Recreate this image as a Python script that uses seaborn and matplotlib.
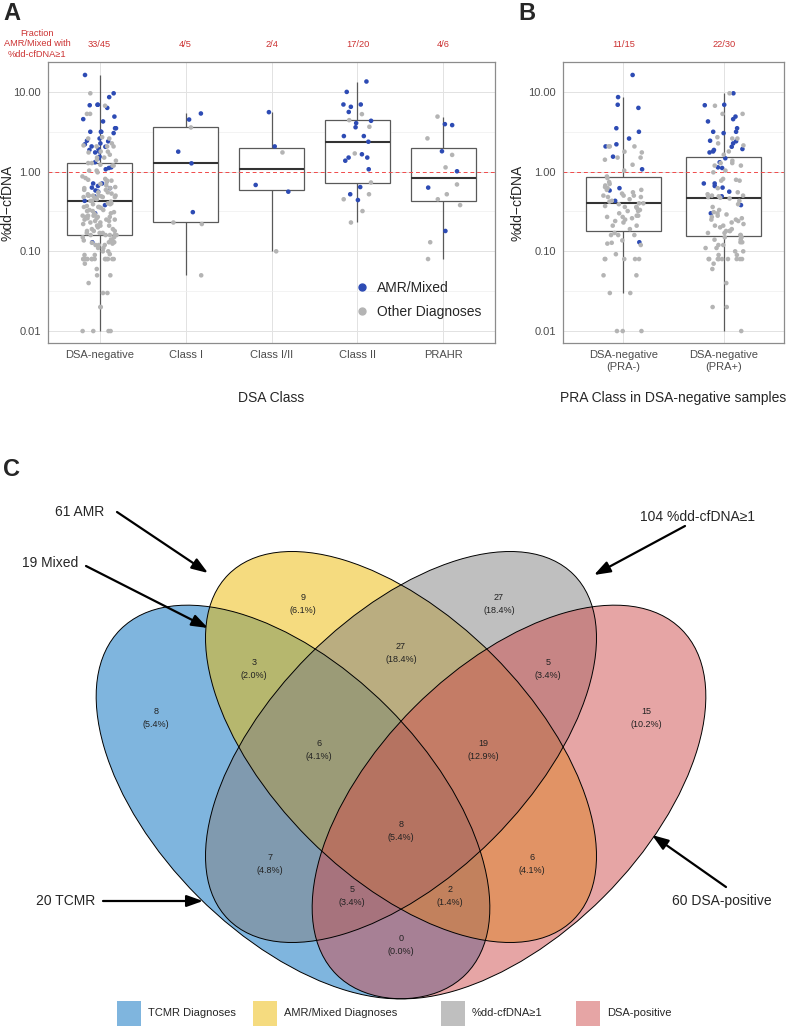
import numpy as np
import pandas as pd
import matplotlib.pyplot as plt
import seaborn as sns
from matplotlib.patches import Ellipse, Rectangle
from matplotlib.lines import Line2D
from matplotlib.ticker import FixedLocator, FixedFormatter, NullFormatter

# ---- Panel A/B data (%dd-cfDNA per sample) ----
pra_neg_amr = [16.3, 8.6, 6.9, 6.3, 3.5, 3.16, 2.6, 2.2, 2.07, 1.54, 1.07, 0.62, 0.58, 0.43, 0.13]
pra_neg_other = [2.07, 2.07, 2.07, 1.74, 1.78, 1.41, 1.5, 1.5, 1.22, 1.03,
                 0.87, 0.83, 0.74, 0.7, 0.67, 0.64, 0.59, 0.59, 0.5, 0.48,
                 0.43, 0.5, 0.48, 0.53, 0.5, 0.4, 0.37, 0.39, 0.36, 0.4,
                 0.36, 0.32, 0.30, 0.28, 0.32, 0.28, 0.26, 0.27, 0.24, 0.27,
                 0.23, 0.21, 0.21, 0.19, 0.16, 0.16, 0.16, 0.137, 0.125, 0.128,
                 0.12, 0.092, 0.08, 0.08, 0.08, 0.08, 0.08, 0.05, 0.05, 0.03,
                 0.03, 0.01, 0.01, 0.01, 0.45, 0.55, 0.62, 0.35, 0.33, 0.42, 0.25, 0.17]
pra_pos_amr = [9.6, 6.8, 6.9, 4.9, 4.55, 4.26, 3.5, 3.16, 3.16, 3.04, 2.44, 2.26, 2.4, 2.05, 1.92,
               1.87, 1.79, 1.74, 1.47, 1.31, 1.13, 1.11, 0.71, 0.71, 0.63, 0.66, 0.49, 0.38, 0.30, 0.56]
pra_pos_other = [9.6, 6.7, 5.3, 5.3, 2.7, 2.6, 2.6, 2.26, 2.13, 1.79,
                 1.63, 1.37, 1.28, 1.28, 1.19, 1.19, 1.03, 0.98, 0.77, 0.77,
                 0.79, 0.81, 0.62, 0.49, 0.5, 0.48, 0.43, 0.39, 0.36, 0.28,
                 0.29, 0.25, 0.26, 0.22, 0.21, 0.25, 0.21, 0.18, 0.18, 0.17,
                 0.18, 0.16, 0.16, 0.15, 0.14, 0.13, 0.11, 0.13, 0.14, 0.11,
                 0.08, 0.08, 0.08, 0.08, 0.08, 0.08, 0.08, 0.08, 0.07, 0.09,
                 0.06, 0.04, 0.02, 0.02, 0.01,
                 0.55, 0.52, 0.5, 0.47, 0.46, 0.33, 0.31, 0.3, 0.27, 0.24, 0.23,
                 0.2, 0.19, 0.17, 0.15, 0.12, 0.12, 0.1, 0.1, 0.09, 0.08]
class1_amr = [5.36, 4.5, 1.78, 1.27, 0.31]
class1_other = [3.58, 0.23, 0.22, 0.05]
class12_amr = [5.57, 2.07, 0.68, 0.56]
class12_other = [1.74, 0.10]
class2_amr = [13.5, 10.0, 6.5, 5.6, 6.95, 6.95, 4.34, 4.06, 3.6, 2.79, 2.79, 2.37, 1.65, 1.5, 1.5, 1.37,
              1.07, 0.64, 0.52, 0.44]
class2_other = [5.26, 4.42, 3.65, 1.69, 0.73, 0.52, 0.45, 0.32, 0.23]
prahr_amr = [3.83, 3.94, 1.8, 1.01, 0.63, 0.18]
prahr_other = [4.9, 2.61, 1.62, 1.13, 0.69, 0.52, 0.45, 0.38, 0.13, 0.08]

groups_a = ['DSA-negative', 'Class I', 'Class I/II', 'Class II', 'PRAHR']
fracs_a = ['33/45', '4/5', '2/4', '17/20', '4/6']
groups_b = ['DSA-negative\n(PRA-)', 'DSA-negative\n(PRA+)']
fracs_b = ['11/15', '22/30']

# ---- Panel C data (Venn region counts) ----
venn_sets = ['TCMR Diagnoses', 'AMR/Mixed Diagnoses', '%dd-cfDNA\u22651', 'DSA-positive']
venn_regions = ['T', 'A', 'D', 'P', 'TA', 'AD', 'DP', 'TAD', 'ADP', 'TADP', 'TD', 'AP', 'TDP', 'TAP', 'TP']
venn_counts = [8, 9, 27, 15, 3, 27, 5, 6, 19, 8, 7, 6, 5, 2, 0]
venn_callouts = ['61 AMR', '19 Mixed', '104 %dd-cfDNA\u22651', '20 TCMR', '60 DSA-positive']

BLUE = '#2D4BB4'
GREY = '#B4B4B4'
venn_colors = ['#006DBF', '#EDB900', '#818181', '#CF4D4D']

sns.set_style('white')
plt.rcParams['font.family'] = ['Liberation Sans', 'DejaVu Sans']

W, H = 800, 1026
fig = plt.figure(figsize=(8, 10.26), dpi=100)


def fx(x):
    return x / W


def fy(y):
    return 1 - y / H


def make_df(groups):
    rows = []
    for g, (amr, other) in groups.items():
        rows += [(g, v, 'AMR/Mixed') for v in amr]
        rows += [(g, v, 'Other Diagnoses') for v in other]
    return pd.DataFrame(rows, columns=['group', 'pct', 'dx'])


df_a = make_df({
    'DSA-negative': (pra_neg_amr + pra_pos_amr, pra_neg_other + pra_pos_other),
    'Class I': (class1_amr, class1_other),
    'Class I/II': (class12_amr, class12_other),
    'Class II': (class2_amr, class2_other),
    'PRAHR': (prahr_amr, prahr_other),
})
df_b = make_df({
    groups_b[0]: (pra_neg_amr, pra_neg_other),
    groups_b[1]: (pra_pos_amr, pra_pos_other),
})

np.random.seed(7)


def panel(ax, df, order, fracs, xlabel, ylab_x):
    ax.set_yscale('log')
    sns.boxplot(data=df, x='group', y='pct', order=order, ax=ax, width=0.75, color='white',
                linecolor='#595959', linewidth=0.9, showfliers=False, showcaps=False, whis=1.5,
                medianprops=dict(color='#333333', linewidth=1.5))
    ax.axhline(1, color='#F04A4A', ls=(0, (4, 3)), lw=0.7, zorder=2.5)
    sns.stripplot(data=df, x='group', y='pct', order=order, hue='dx',
                  hue_order=['Other Diagnoses', 'AMR/Mixed'],
                  palette={'AMR/Mixed': BLUE, 'Other Diagnoses': GREY},
                  jitter=0.2, size=3.3, linewidth=0, ax=ax, legend=False, zorder=3)
    ax.set_xlim(-0.6, len(order) - 0.4)
    ax.set_ylim(10 ** -2.15, 10 ** 1.375)
    ax.yaxis.set_major_locator(FixedLocator([0.01, 0.1, 1, 10]))
    ax.yaxis.set_major_formatter(FixedFormatter(['0.01', '0.10', '1.00', '10.00']))
    ax.yaxis.set_minor_locator(FixedLocator([10 ** -1.5, 10 ** -0.5, 10 ** 0.5]))
    ax.yaxis.set_minor_formatter(NullFormatter())
    ax.tick_params(axis='y', which='minor', length=0)
    ax.tick_params(which='major', length=3, pad=2, color='#999999', labelcolor='#4D4D4D', labelsize=8)
    ax.set_axisbelow(True)
    ax.grid(True, which='major', color='#E2E2E2', lw=0.7)
    ax.grid(True, which='minor', axis='y', color='#EFEFEF', lw=0.5)
    for s in ax.spines.values():
        s.set_color('#8C8C8C')
        s.set_linewidth(0.9)
    ax.set_ylabel('%dd\u2212cfDNA', fontsize=10)
    ax.yaxis.set_label_coords(ylab_x, 0.5)
    ax.set_xlabel(xlabel, fontsize=10)
    ax.xaxis.set_label_coords(0.5, -0.17)
    for i, f in enumerate(fracs):
        ax.text(i, 1.062, f, transform=ax.get_xaxis_transform(), ha='center', va='center',
                color='#CC3333', fontsize=6.7)


axA = fig.add_axes([fx(48), fy(343), 447 / W, 281 / H])
axB = fig.add_axes([fx(563), fy(343), 221 / W, 281 / H])
panel(axA, df_a, groups_a, fracs_a, 'DSA Class', (15 - 48) / 447)
panel(axB, df_b, groups_b, fracs_b, 'PRA Class in DSA-negative samples', (525 - 563) / 221)

handles = [Line2D([], [], marker='o', ls='', color=BLUE, markersize=5),
           Line2D([], [], marker='o', ls='', color=GREY, markersize=5)]
axA.legend(handles, ['AMR/Mixed', 'Other Diagnoses'], loc='center left',
           bbox_to_anchor=((348 - 48) / 447, (343 - 300) / 281), frameon=False, fontsize=10,
           handlelength=1.0, handletextpad=0.6, labelspacing=0.75, borderpad=0)

fig.text(fx(37), fy(44), 'Fraction\nAMR/Mixed with\n%dd-cfDNA\u22651', ha='center', va='center',
         color='#CC3333', fontsize=6.7, linespacing=1.15)
for lab, x, y in [('A', 3, 14), ('B', 518, 14), ('C', 3, 470)]:
    fig.text(fx(x), fy(y), lab, fontsize=17, fontweight='bold', va='center', ha='left')

# ---- Panel C: four-ellipse Venn, drawn in pixel units on an overlay axes ----
axC = fig.add_axes([0, 0, 1, 1], zorder=-1)
axC.set_xlim(0, W)
axC.set_ylim(H, 0)
axC.axis('off')

# (center, angle, full width, full height)
ell = [((293, 802), 45, 488, 268), ((401, 747), 45, 488, 260),
       ((401, 747), -45, 488, 260), ((509, 802), -45, 488, 268)]
for (c, ang, w, h), col in zip(ell, venn_colors):
    axC.add_patch(Ellipse(c, w, h, angle=ang, facecolor=col, alpha=0.5, lw=0))
for c, ang, w, h in ell:
    axC.add_patch(Ellipse(c, w, h, angle=ang, fill=False, edgecolor='black', lw=0.7))

label_pos = [(156, 718), (303, 604), (499, 604), (646, 718), (254, 669), (401, 653), (548, 669),
             (319, 750), (483, 750), (401, 831), (270, 864), (532, 864), (352, 896), (450, 896),
             (401, 945)]
total = sum(venn_counts)
for n, (x, y) in zip(venn_counts, label_pos):
    axC.text(x, y, f'{n}\n({100 * n / total:.1f}%)', ha='center', va='center', fontsize=6.5,
             color='#222222', linespacing=1.6)

callout_text = [(55, 512), (22, 563), (640, 517), (36, 901), (672, 901)]
callout_arrow = [((117, 512), (208, 573)), ((86, 566), (208, 628)), ((685, 526), (594, 575)),
                 ((103, 901), (203, 901)), ((726, 887), (652, 835))]
for txt, (tx, ty), (p0, p1) in zip(venn_callouts, callout_text, callout_arrow):
    axC.text(tx, ty, txt, ha='left', va='center', fontsize=10)
    axC.annotate('', xy=p1, xytext=p0, annotation_clip=False,
                 arrowprops=dict(arrowstyle='-|>,head_length=0.7,head_width=0.25', lw=1.6,
                                 color='black', mutation_scale=14, shrinkA=0, shrinkB=0))

legend_x = [117, 253, 441, 576]
for lab, col, x0 in zip(venn_sets, venn_colors, legend_x):
    axC.add_patch(Rectangle((x0, 1001), 24, 31, facecolor=col, alpha=0.5, lw=0, clip_on=False))
    axC.text(x0 + 31, 1013, lab, ha='left', va='center', fontsize=8)

fig.savefig('out.png', dpi=100)
